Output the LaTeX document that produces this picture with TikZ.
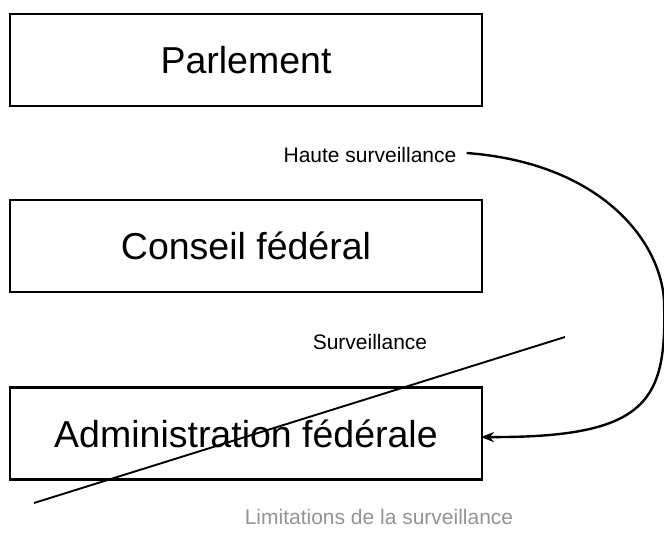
\documentclass[tikz,border=0pt]{standalone}
\usepackage{fontspec}
\setmainfont{Liberation Sans}
\usetikzlibrary{arrows.meta}
\begin{document}
\begin{tikzpicture}[x=1pt,y=-1pt,
  organ/.style={draw, line width=2.2pt, minimum width=472pt, minimum height=92pt,
    inner sep=0pt, font=\fontsize{37.5}{44}\selectfont},
  lbl/.style={inner sep=1pt, font=\fontsize{21}{25}\selectfont},
  note/.style={inner sep=1pt, text=black!42, font=\fontsize{21}{25}\selectfont}]
\useasboundingbox (0,0) rectangle (664,535);

% the three federal bodies
\node[organ] (parl)  at (246,60)    {Parlement};
\node[organ] (cf)    at (246,246)   {Conseil fédéral};
\node[organ] (admin) at (246,433.5) {Administration fédérale};

% labels
\node[lbl]  (haute) at (370,155) {Haute surveillance};
\node[lbl]  (surv)  at (370,342) {Surveillance};
\node[note] (lim)   at (379,517) {Limitations de la surveillance};

% oversight by parliament reaching down to the administration
\coordinate (start) at ([xshift=9pt,yshift=2pt]haute.east);
\coordinate (tip) at (481,437);
\draw[line width=2.4pt, -{Stealth[length=13pt,width=10pt]}]
  (start) .. controls (600,163) and (660,240) .. (664,300)
  .. controls (667,400) and (650,438) .. (tip);

% crossed-out supervision line
\coordinate (crossA) at (565,337);
\coordinate (crossB) at (34,503);
\draw[line width=1.9pt] (crossA) -- (crossB);
\end{tikzpicture}
\end{document}
